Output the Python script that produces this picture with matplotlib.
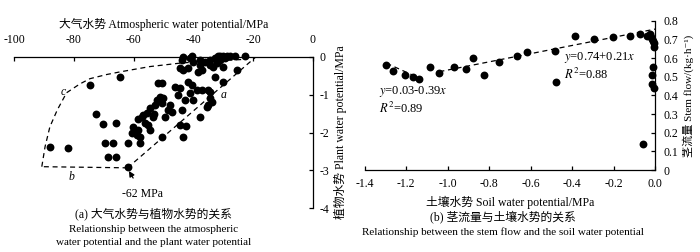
import numpy as np
import matplotlib.pyplot as plt

plt.rcParams['font.family'] = ['Liberation Serif', 'Noto Sans CJK SC', 'DejaVu Sans']
plt.rcParams['mathtext.fontset'] = 'stix'
plt.rcParams['font.size'] = 7.5
plt.rcParams['axes.linewidth'] = 0.9

# ---- panel (a): atmospheric vs plant water potential
atm_wp = [-43.4, -40.6, -41.1, -43.9, -40.0, -37.8, -36.1, -34.4, -32.8, -31.7,
          -31.1, -30.0, -28.9, -27.8, -26.1, -22.7, -31.1, -29.4, -32.2, -34.4,
          -33.3, -30.0, -37.8, -37.2, -38.4, -43.4, -44.5, -41.7, -25.5, -32.8,
          -30.0, -51.7, -50.6, -41.7, -40.6, -46.2, -44.5, -38.9, -37.2, -35.0,
          -34.4, -41.1, -45.0, -42.8, -51.2, -50.1, -52.3, -52.9, -50.6, -47.8,
          -40.0, -34.4, -33.9, -35.0, -35.5, -43.9, -37.8, -54.5, -55.6, -56.7,
          -57.2, -53.4, -58.4, -49.5, -47.3, -44.5, -42.3, -88.0, -82.0, -72.7,
          -70.1, -65.9, -69.6, -67.0, -61.8, -68.5, -65.9, -62.0, -60.6, -59.9,
          -59.0, -57.9, -57.9, -56.2, -55.1, -54.5, -50.6, -43.4, -60.2, -58.5,
          -64.5, -74.6, -53.0, -48.5]
plant_wp = [0.0, 0.02, -0.04, -0.09, -0.13, -0.09, -0.13, -0.09, -0.04, 0.02,
            0.03, 0.03, 0.02, 0.03, 0.03, 0.02, -0.09, -0.04, -0.17, -0.22,
            -0.26, -0.26, -0.22, -0.35, -0.40, -0.35, -0.31, -0.31, -0.35, -0.53,
            -0.66, -0.70, -0.70, -0.66, -0.75, -0.79, -0.83, -0.88, -0.88, -0.88,
            -0.92, -0.97, -1.01, -1.14, -1.06, -1.10, -1.14, -1.27, -1.23, -1.27,
            -1.14, -1.10, -1.19, -1.27, -1.32, -1.41, -1.58, -1.36, -1.49, -1.54,
            -1.58, -1.58, -1.63, -1.58, -1.45, -1.80, -1.83, -2.39, -2.42, -1.51,
            -1.78, -1.74, -2.28, -2.28, -2.28, -2.65, -2.65, -2.92, -2.02, -1.98,
            -2.07, -2.11, -2.28, -1.76, -1.80, -1.93, -2.11, -2.11, -1.86, -1.93,
            -0.53, -0.75, -1.50, -1.40]

line_a_x = [-62.0, -19.0]
line_a_y = [-2.93, 0.0]
line_b_x = [-62.0, -90.7]
line_b_y = [-2.93, -2.90]
line_c_x = [-90.7, -89.6, -88.0, -85.5, -82.4, -78.0, -74.6, -69.0, -64.5, -54.5, -44.5, -37.8, -30.0, -22.7]
line_c_y = [-2.90, -2.37, -1.85, -1.40, -0.95, -0.72, -0.58, -0.47, -0.40, -0.26, -0.17, -0.13, -0.10, -0.07]

# ---- panel (b): stem flow vs soil water potential
soil_wp = [-1.295, -1.263, -1.207, -1.167, -1.138, -1.086, -1.041, -0.969, -0.913, -0.877,
           -0.824, -0.753, -0.665, -0.616, -0.483, -0.478, -0.386, -0.297, -0.204, -0.120,
           -0.072, -0.040, -0.027, -0.016, -0.011, -0.008, -0.011, -0.016, -0.016, -0.008,
           -0.020, -0.005, -0.059]
stem_flow = [0.56, 0.53, 0.51, 0.50, 0.49, 0.55, 0.52, 0.55, 0.54, 0.60,
             0.51, 0.58, 0.61, 0.63, 0.64, 0.47, 0.72, 0.70, 0.71, 0.72,
             0.73, 0.72, 0.73, 0.70, 0.69, 0.66, 0.55, 0.51, 0.46, 0.44,
             0.71, 0.68, 0.14]
fit1_x = [-1.295, -1.134]
fit1_y = [0.572, 0.491]
fit2_x = [-1.04, 0.0]
fit2_y = [0.527, 0.755]

fig = plt.figure(figsize=(7.0, 2.52), dpi=100)

# ---------------- (a)
ax1 = fig.add_axes([0.02, 0.173, 0.427, 0.602])
ax1.scatter(atm_wp, plant_wp, s=32, c='black', zorder=3, clip_on=False, linewidths=0)
ax1.plot(line_a_x, line_a_y, 'k--', lw=0.9, dashes=(4, 3))
ax1.plot(line_b_x, line_b_y, 'k--', lw=0.9, dashes=(4, 3))
ax1.plot(line_c_x, line_c_y, 'k--', lw=0.9, dashes=(4, 3))
ax1.set_xlim(-100, 0)
ax1.set_ylim(-4, 0)
ax1.set_xticks(np.arange(-100, 1, 20))
ax1.set_yticks(np.arange(-4, 1, 1))
ax1.set_yticklabels(['-4', '-3', '-2', '-1', '0'])
ax1.set_xticklabels(['-100', '-80', '-60', '-40', '-20', '0'])
ax1.xaxis.tick_top()
ax1.yaxis.tick_right()
ax1.spines['bottom'].set_visible(False)
ax1.spines['left'].set_visible(False)
ax1.tick_params(direction='in', length=3, width=0.9, labelsize=8.5)
ax1.tick_params(axis='x', pad=8)
ax1.tick_params(axis='y', pad=5)
ax1.xaxis.set_label_position('top')
ax1.set_xlabel('大气水势 Atmospheric water potential/MPa', fontsize=8.5, labelpad=4)
ax1.yaxis.set_label_position('right')
ax1.set_ylabel('植物水势 Plant water potential/MPa', fontsize=8.5, labelpad=3, rotation=90)
ax1.text(-30.0, -1.02, 'a', fontstyle='italic', fontsize=8.5, ha='center', va='center')
ax1.text(-83.6, -0.93, 'c', fontstyle='italic', fontsize=8.5, ha='center', va='center')
ax1.text(-80.7, -3.17, 'b', fontstyle='italic', fontsize=8.5, ha='center', va='center')
ax1.annotate('-62 MPa', xy=(-62.0, -2.95), xytext=(-57.0, -3.62),
             ha='center', va='center', fontsize=8.5, annotation_clip=False,
             arrowprops=dict(arrowstyle='-|>', color='black', lw=0.9,
                             mutation_scale=8, shrinkA=6, shrinkB=2))

fig.text(0.219, 0.151, '(a) 大气水势与植物水势的关系', ha='center', va='center', fontsize=8.5)
fig.text(0.219, 0.091, 'Relationship between the atmospheric', ha='center', va='center', fontsize=8)
fig.text(0.219, 0.036, 'water potential and the plant water potential', ha='center', va='center', fontsize=8)

# ---------------- (b)
ax2 = fig.add_axes([0.521, 0.325, 0.415, 0.593])
ax2.scatter(soil_wp, stem_flow, s=32, c='black', zorder=3, clip_on=False, linewidths=0)
ax2.plot(fit1_x, fit1_y, 'k--', lw=0.9, dashes=(4, 3))
ax2.plot(fit2_x, fit2_y, 'k--', lw=0.9, dashes=(4, 3))
ax2.set_xlim(-1.4, 0.0)
ax2.set_ylim(0, 0.8)
ax2.set_xticks(np.arange(-1.4, 0.01, 0.2))
ax2.set_xticklabels(['-1.4', '-1.2', '-1.0', '-0.8', '-0.6', '-0.4', '-0.2', '0.0'])
ax2.set_yticks(np.arange(0, 0.81, 0.1))
ax2.set_yticklabels(['0', '0.1', '0.2', '0.3', '0.4', '0.5', '0.6', '0.7', '0.8'])
ax2.yaxis.tick_right()
ax2.spines['top'].set_visible(False)
ax2.spines['left'].set_visible(False)
ax2.tick_params(direction='in', length=3, width=0.9, labelsize=8.5)
ax2.tick_params(axis='x', pad=6)
ax2.tick_params(axis='y', pad=6)
ax2.yaxis.set_label_position('right')
ax2.set_ylabel('茎流量 Stem flow/(kg·h⁻¹)', fontsize=8, labelpad=3)
ax2.set_xlabel('土壤水势 Soil water potential/MPa', fontsize=8.5, labelpad=4)
ax2.text(-1.33, 0.42, '$y$=0.03-0.39$x$', fontsize=9, ha='left', va='center')
ax2.text(-1.33, 0.33, '$R^2$=0.89', fontsize=9, ha='left', va='center')
ax2.text(-0.44, 0.605, '$y$=0.74+0.21$x$', fontsize=9, ha='left', va='center')
ax2.text(-0.44, 0.51, '$R^2$=0.88', fontsize=9, ha='left', va='center')

fig.text(0.719, 0.139, '(b) 茎流量与土壤水势的关系', ha='center', va='center', fontsize=8.5)
fig.text(0.719, 0.079, 'Relationship between the stem flow and the soil water potential',
         ha='center', va='center', fontsize=8)

fig.savefig('out.png', dpi=100)
